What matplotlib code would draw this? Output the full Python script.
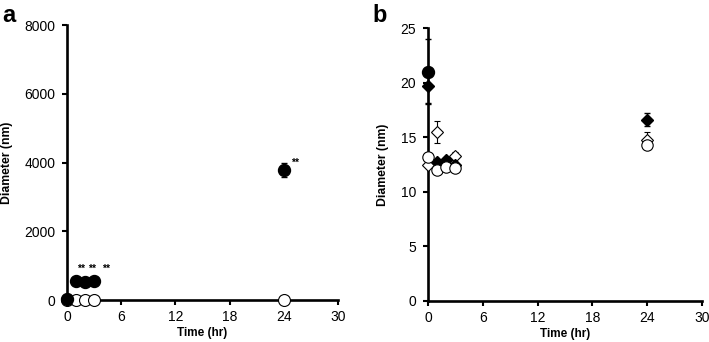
import matplotlib
matplotlib.use("Agg")
import matplotlib.pyplot as plt
import numpy as np

plt.rcParams['font.family'] = ['Liberation Sans', 'DejaVu Sans']

# Panel a
time_a = [0, 1, 2, 3, 24]
a_filled = [20, 560, 530, 550, 3780]
a_filled_err = [0, 40, 40, 40, 200]
a_open = [13, 12, 12.3, 12.2, 14.3]
stars_a_x = [1.5, 2.8, 4.3, 25.3]
stars_a_y = [900, 900, 900, 3980]

# Panel b
time_b = [0, 1, 2, 3, 24]
b_filled_circle_t = [0]
b_filled_circle = [21.0]
b_filled_circle_err = [3.0]
b_filled_diamond = [19.7, 12.7, 12.9, 12.5, 16.6]
b_filled_diamond_err = [1.6, 0.2, 0.2, 0.2, 0.6]
b_open_diamond = [12.5, 15.5, 12.5, 13.3, 14.7]
b_open_diamond_err = [0.3, 1.0, 0.3, 0.3, 0.8]
b_open_circle = [13.2, 12.0, 12.3, 12.2, 14.3]
b_open_circle_err = [0.3, 0.3, 0.3, 0.3, 0.3]

xticks = [0, 6, 12, 18, 24, 30]

fig = plt.figure(figsize=(7.09, 3.42), dpi=100)
axa = fig.add_axes([0.0945, 0.1228, 0.382, 0.804])
axb = fig.add_axes([0.6037, 0.12, 0.3865, 0.798])

ms = 8.6
for ax in (axa, axb):
    for s in ('top', 'right'):
        ax.spines[s].set_visible(False)
    for s in ('left', 'bottom'):
        ax.spines[s].set_linewidth(1.9)
    ax.tick_params(direction='out', width=1.5, length=3.5, labelsize=10, pad=4)
    ax.tick_params(axis='y', pad=5)
    ax.set_xlim(0, 30)
    ax.set_xticks(xticks)
    ax.set_xlabel('Time (hr)', fontsize=8.5, fontweight='bold', labelpad=2)
    ax.set_ylabel('Diameter (nm)', fontsize=8.8, fontweight='bold', labelpad=8)

# Panel a
axa.errorbar(time_a, a_open, fmt='o', ms=ms, mfc='white', mec='black', mew=0.8,
             ecolor='black', capsize=2, zorder=3, clip_on=False)
axa.errorbar(time_a, a_filled, yerr=a_filled_err, fmt='o', ms=ms, mfc='black', mec='black',
             ecolor='black', elinewidth=0.8, capsize=2.5, zorder=4, clip_on=False)
axa.set_ylim(0, 8000)
axa.set_yticks([0, 2000, 4000, 6000, 8000])
for x, y in zip(stars_a_x, stars_a_y):
    axa.text(x, y, '**', fontsize=7.5, fontweight='bold', ha='center', va='center')
fig.text(0.003, 0.935, 'a', fontsize=17, fontweight='bold')

# Panel b
axb.errorbar(b_filled_circle_t, b_filled_circle, yerr=b_filled_circle_err, fmt='o', ms=ms,
             mfc='black', mec='black', ecolor='black', elinewidth=0.8, capsize=2.5, zorder=4, clip_on=False)
axb.errorbar(time_b, b_filled_diamond, yerr=b_filled_diamond_err, fmt='D', ms=6.5,
             mfc='black', mec='black', ecolor='black', elinewidth=0.8, capsize=2.5, zorder=5, clip_on=False)
axb.errorbar(time_b, b_open_diamond, yerr=b_open_diamond_err, fmt='D', ms=6.5,
             mfc='white', mec='black', mew=0.8, ecolor='black', elinewidth=0.8, capsize=2.5, zorder=3, clip_on=False)
axb.errorbar(time_b, b_open_circle, yerr=b_open_circle_err, fmt='o', ms=8.2,
             mfc='white', mec='black', mew=0.8, ecolor='black', elinewidth=0.8, capsize=2.5, zorder=6, clip_on=False)
axb.set_ylim(0, 25)
axb.set_yticks([0, 5, 10, 15, 20, 25])
fig.text(0.526, 0.935, 'b', fontsize=17, fontweight='bold')

fig.savefig('out.png', dpi=100)
